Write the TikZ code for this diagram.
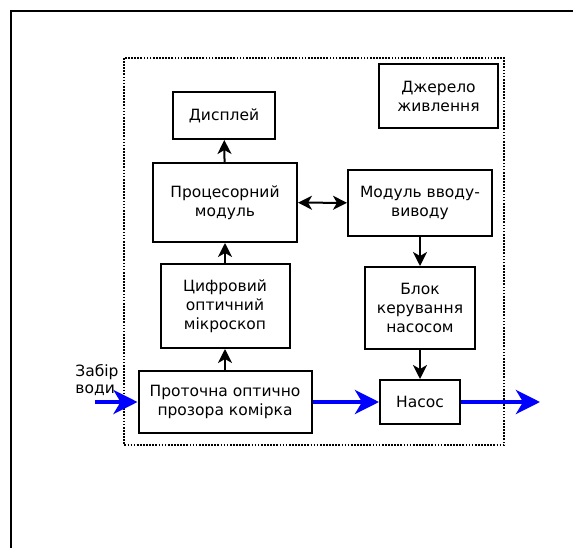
\documentclass[tikz,border=0pt]{standalone}
\usepackage{fontspec}
\setmainfont{DejaVu Sans}
\usetikzlibrary{arrows.meta}

\begin{document}
\begin{tikzpicture}[x=1pt,y=-1pt,>={Stealth[length=14pt,width=14pt,inset=4pt]},
  blk/.style={draw,line width=2pt,align=center,inner sep=0pt,font=\fontsize{15.5}{19}\selectfont},
  sig/.style={->,line width=2pt},
  flow/.style={-{Stealth[length=24pt,width=24pt,inset=7pt]},line width=4pt,blue}]
\useasboundingbox (0,0) rectangle (573,548);
% frame
\draw[line width=2.5pt] (11,10) -- (11,548);
\draw[line width=1.4pt] (10,11) -- (573,11);
\draw[line width=1.9pt,dash pattern=on 1.7pt off 1.4pt] (124,58) rectangle (504,445);

\node[blk,minimum width=102,minimum height=47] (displ) at (224,115.5) {Дисплей};
\node[blk,minimum width=144,minimum height=79] (proc) at (225,202.5) {Процесорний\\модуль};
\node[blk,minimum width=129,minimum height=84] (mikro) at (225,306) {Цифровий\\оптичний\\мікроскоп};
\node[blk,minimum width=173,minimum height=62] (kom) at (225,402) {Проточна оптично\\прозора комірка};
\node[blk,minimum width=119,minimum height=64] (zhyv) at (438.5,96) {Джерело\\живлення};
\node[blk,minimum width=144,minimum height=66] (vv) at (420,203) {Модуль вводу-\\виводу};
\node[blk,minimum width=110,minimum height=82] (kerup) at (420,308) {Блок\\керування\\насосом};
\node[blk,minimum width=80,minimum height=44] (nasos) at (420,402) {Насос};
\node[align=left,inner sep=0pt,font=\fontsize{15.5}{17}\selectfont] (zabir) at (97,380) {Забір\\води};

\coordinate (vhid) at (95,402);
\coordinate (vyhid) at (540,402);

\draw[sig] (kom) -- (mikro);
\draw[sig] (mikro) -- (proc);
\draw[sig] (proc) -- (displ);
\draw[sig,<->] (proc) -- (vv);
\draw[sig] (vv) -- (kerup);
\draw[sig] (kerup) -- (nasos);
\draw[flow] (vhid) -- (kom);
\draw[flow] (kom) -- (nasos);
\draw[flow] (nasos) -- (vyhid);
\end{tikzpicture}
\end{document}
